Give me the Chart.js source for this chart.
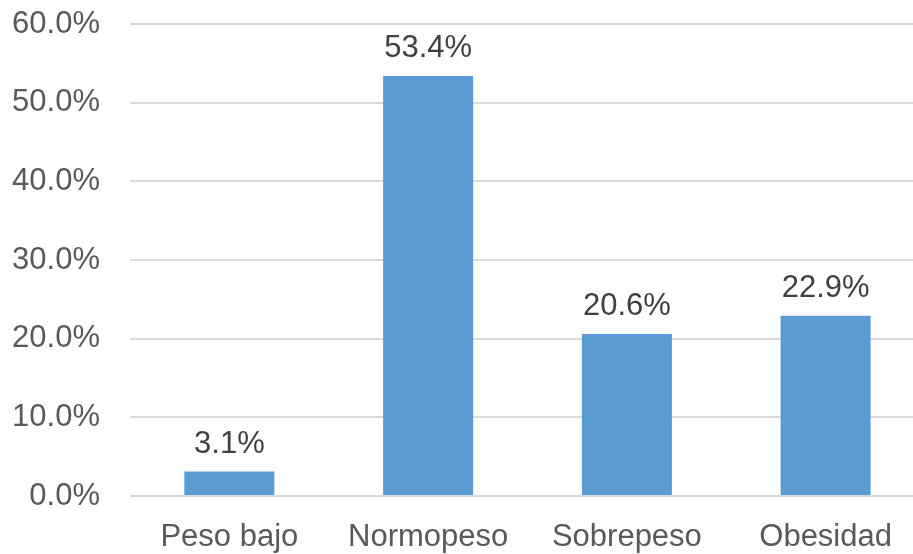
<!DOCTYPE html>
<html>
<head>
<meta charset="UTF-8">
<title>Estado nutricional</title>
<script src="https://cdn.jsdelivr.net/npm/chart.js@4/dist/chart.umd.min.js"></script>
<style>
    html, body { margin: 0; padding: 0; background: #fff; overflow: hidden; }
    #wrap { width: 925px; height: 554px; }
</style>
</head>
<body>
<div id="wrap"><canvas id="imcChart"></canvas></div>
<script>
// Distribución por categoría de IMC (%)
const categorias = ['Peso bajo', 'Normopeso', 'Sobrepeso', 'Obesidad'];
const porcentajes = [3.1, 53.4, 20.6, 22.9];
const ticksY = [0, 10, 20, 30, 40, 50, 60];

const FONT = '"Liberation Sans", Arial, sans-serif';

// etiquetas de valor encima de cada barra
const barLabels = {
    id: 'barLabels',
    afterDatasetsDraw(chart) {
        const ctx = chart.ctx;
        const meta = chart.getDatasetMeta(0);
        ctx.save();
        ctx.font = '31px ' + FONT;
        ctx.fillStyle = '#404040';
        ctx.textAlign = 'center';
        ctx.textBaseline = 'alphabetic';
        meta.data.forEach((bar, i) => {
            ctx.fillText(porcentajes[i].toFixed(1) + '%', bar.x, bar.y - 19);
        });
        ctx.restore();
    }
};

const ctx = document.getElementById('imcChart').getContext('2d');
new Chart(ctx, {
    type: 'bar',
    data: {
        labels: categorias,
        datasets: [{
            data: porcentajes,
            backgroundColor: '#5B9BD5',
            borderWidth: 0,
            barPercentage: 0.453,
            categoryPercentage: 1
        }]
    },
    options: {
        responsive: true,
        maintainAspectRatio: false,
        animation: false,
        layout: { padding: { top: 24, right: 0, left: 0, bottom: 0 } },
        plugins: {
            legend: { display: false },
            tooltip: { enabled: false }
        },
        scales: {
            x: {
                grid: { display: false, drawTicks: false },
                border: { display: false },
                ticks: {
                    color: '#595959',
                    font: { family: FONT, size: 31 },
                    padding: 23
                },
                afterFit(scale) { scale.height = 58; }
            },
            y: {
                min: 0,
                max: 60,
                afterBuildTicks(scale) {
                    scale.ticks = ticksY.map(v => ({ value: v }));
                },
                grid: { color: '#D9D9D9', lineWidth: 2, drawTicks: false },
                border: { display: false },
                ticks: {
                    color: '#595959',
                    font: { family: FONT, size: 31 },
                    padding: 30,
                    callback: v => v.toFixed(1) + '%'
                },
                afterFit(scale) {
                    // el padding de las etiquetas no debe empujar el área del gráfico
                    scale.width = 130;
                    scale.paddingTop = 0;
                    scale.paddingBottom = 0;
                }
            }
        }
    },
    plugins: [barLabels]
});
</script>
</body>
</html>
